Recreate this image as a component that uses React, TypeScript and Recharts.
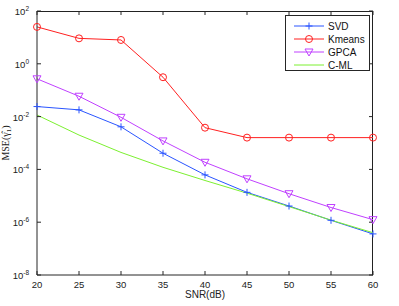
import React from "react";
import { LineChart, Line, XAxis, YAxis, ReferenceLine } from "recharts";

const snr = [20, 25, 30, 35, 40, 45, 50, 55, 60];
const svd = [0.024, 0.018, 0.0041, 4.1e-4, 6.2e-5, 1.35e-5, 4.1e-6, 1.18e-6, 3.6e-7];
const kmeans = [25, 9.2, 8, 0.31, 0.0038, 0.0016, 0.0016, 0.0016, 0.0016];
const gpca = [0.27, 0.059, 0.0094, 0.0012, 1.86e-4, 4.4e-5, 1.2e-5, 3.6e-6, 1.25e-6];
const cml = [0.0115, 0.002, 4.4e-4, 1.2e-4, 3.8e-5, 1.26e-5, 3.9e-6, 1.2e-6, 4e-7];

const xTicks = [20, 25, 30, 35, 40, 45, 50, 55, 60];
const yTicks = [1e-8, 1e-6, 1e-4, 1e-2, 1, 100];
const yExps = ["-8", "-6", "-4", "-2", "0", "2"];

const seriesNames = ["SVD", "Kmeans", "GPCA", "C-ML"];
const seriesKeys = ["svd", "kmeans", "gpca", "cml"];
const seriesColors = ["#2a55ff", "#ff2020", "#c040ff", "#7cf030"];
const seriesMarkers = ["plus", "circle", "tri", "none"];

const data = snr.map((s, i) => ({
  snr: s,
  svd: svd[i],
  kmeans: kmeans[i],
  gpca: gpca[i],
  cml: cml[i],
}));

const AX = "#262626";
const FONT = "'Liberation Sans', Arial, Helvetica, sans-serif";

function Marker({ kind, cx, cy, color }: any) {
  if (cx == null || cy == null) return null;
  if (kind === "plus")
    return (
      <g stroke={color} strokeWidth={1}>
        <line x1={cx - 3.5} y1={cy} x2={cx + 3.5} y2={cy} />
        <line x1={cx} y1={cy - 3.5} x2={cx} y2={cy + 3.5} />
      </g>
    );
  if (kind === "circle")
    return <circle cx={cx} cy={cy} r={3.5} stroke={color} strokeWidth={1} fill="none" />;
  if (kind === "tri")
    return (
      <polygon
        points={`${cx - 4},${cy - 3} ${cx + 4},${cy - 3} ${cx},${cy + 4}`}
        stroke={color}
        strokeWidth={1}
        fill="none"
      />
    );
  return null;
}

const makeDot = (kind: string, color: string) => (p: any) => (
  <Marker key={`${kind}-${p.index}`} kind={kind} cx={p.cx} cy={p.cy} color={color} />
);

function BottomTick({ x, y, payload }: any) {
  return (
    <g>
      <line x1={x} y1={y} x2={x} y2={y - 4} stroke={AX} strokeWidth={1} />
      <text x={x} y={y + 13} textAnchor="middle" fontSize={9.5} fill="#222" fontFamily={FONT}>
        {payload.value}
      </text>
    </g>
  );
}

function LeftTick({ x, y, payload }: any) {
  const i = yTicks.indexOf(payload.value);
  const e = i >= 0 ? yExps[i] : "";
  return (
    <g>
      <line x1={x} y1={y} x2={x + 4} y2={y} stroke={AX} strokeWidth={1} />
      <text x={x - 8} y={y + 4} textAnchor="end" fontSize={9.5} fill="#222" fontFamily={FONT}>
        10
        <tspan fontSize={6.5} dy={-4}>
          {e}
        </tspan>
      </text>
    </g>
  );
}

const TopTickShape = (p: any) => {
  const top = Math.min(p.y1, p.y2);
  return <line x1={p.x1} y1={top} x2={p.x1} y2={top + 4} stroke={AX} strokeWidth={1} />;
};

const RightTickShape = (p: any) => {
  const right = Math.max(p.x1, p.x2);
  return <line x1={right} y1={p.y1} x2={right - 4} y2={p.y1} stroke={AX} strokeWidth={1} />;
};

const FrameShape = (p: any) => {
  const vertical = Math.abs(p.x1 - p.x2) < 0.01;
  if (vertical) {
    const x = Math.round(p.x1) - 0.5;
    return <line x1={x} y1={p.y1} x2={x} y2={p.y2} stroke="#222" strokeWidth={1} />;
  }
  const y = Math.round(p.y1) + 0.5;
  return <line x1={p.x1} y1={y} x2={p.x2} y2={y} stroke="#222" strokeWidth={1} />;
};

function LegendBox() {
  return (
    <div
      style={{
        position: "absolute",
        left: 285,
        top: 15,
        width: 83,
        height: 54,
        border: `1px solid ${AX}`,
        background: "#fff",
        boxSizing: "content-box",
      }}
    >
      <svg width={83} height={54} style={{ display: "block" }}>
        {seriesNames.map((n, i) => {
          const cy = 10 + i * 13;
          return (
            <g key={n}>
              <line x1={8} y1={cy} x2={38} y2={cy} stroke={seriesColors[i]} strokeWidth={1} />
              <Marker kind={seriesMarkers[i]} cx={23} cy={cy} color={seriesColors[i]} />
              <text x={42} y={cy + 3.5} fontSize={10} fill="#111" fontFamily={FONT}>
                {n}
              </text>
            </g>
          );
        })}
      </svg>
    </div>
  );
}

const YLabel = (props: any) => {
  const vb = props.viewBox || {};
  const cx = 9;
  const cy = vb.y + vb.height / 2;
  return (
    <text
      transform={`translate(${cx},${cy}) rotate(-90)`}
      textAnchor="middle"
      fontSize={10}
      fill="#222"
      fontFamily="'Liberation Serif', 'Times New Roman', serif"
    >
      MSE(γ̂<tspan fontSize={7} dy={2}>1</tspan>
      <tspan dy={-2}>)</tspan>
    </text>
  );
};

const XLabel = (props: any) => {
  const vb = props.viewBox || {};
  return (
    <text
      x={vb.x + vb.width / 2}
      y={vb.y + 23}
      textAnchor="middle"
      fontSize={10}
      fill="#222"
      fontFamily={FONT}
    >
      SNR(dB)
    </text>
  );
};

export default function App() {
  return (
    <div style={{ position: "absolute", left: 0, top: 0, width: 399, height: 306, background: "#fff" }}>
      <LineChart
        width={399}
        height={306}
        data={data}
        margin={{ top: 11, right: 26, bottom: 0, left: 0 }}
      >
        <XAxis
          dataKey="snr"
          type="number"
          domain={[20, 60]}
          ticks={xTicks}
          height={31}
          tickSize={0}
          tickMargin={0}
          axisLine={{ stroke: AX, strokeWidth: 1 }}
          tick={<BottomTick />}
          interval={0}
          label={<XLabel />}
        />
        <YAxis
          scale="log"
          type="number"
          domain={[1e-8, 100]}
          ticks={yTicks}
          allowDataOverflow
          width={37}
          tickSize={0}
          tickMargin={0}
          axisLine={{ stroke: AX, strokeWidth: 1 }}
          tick={<LeftTick />}
          interval={0}
          label={<YLabel />}
        />
        <ReferenceLine x={60} stroke={AX} shape={FrameShape} ifOverflow="visible" />
        <ReferenceLine y={100} stroke={AX} shape={FrameShape} ifOverflow="visible" />
        {xTicks.map((t) => (
          <ReferenceLine key={`tx${t}`} x={t} stroke={AX} shape={TopTickShape} ifOverflow="visible" />
        ))}
        {yTicks.map((t) => (
          <ReferenceLine key={`ty${t}`} y={t} stroke={AX} shape={RightTickShape} ifOverflow="visible" />
        ))}
        {seriesKeys.map((k, i) => (
          <Line
            key={k}
            dataKey={k}
            name={seriesNames[i]}
            stroke={seriesColors[i]}
            strokeWidth={1}
            dot={seriesMarkers[i] === "none" ? false : makeDot(seriesMarkers[i], seriesColors[i])}
            activeDot={false}
            isAnimationActive={false}
          />
        ))}
      </LineChart>
      <LegendBox />
    </div>
  );
}
